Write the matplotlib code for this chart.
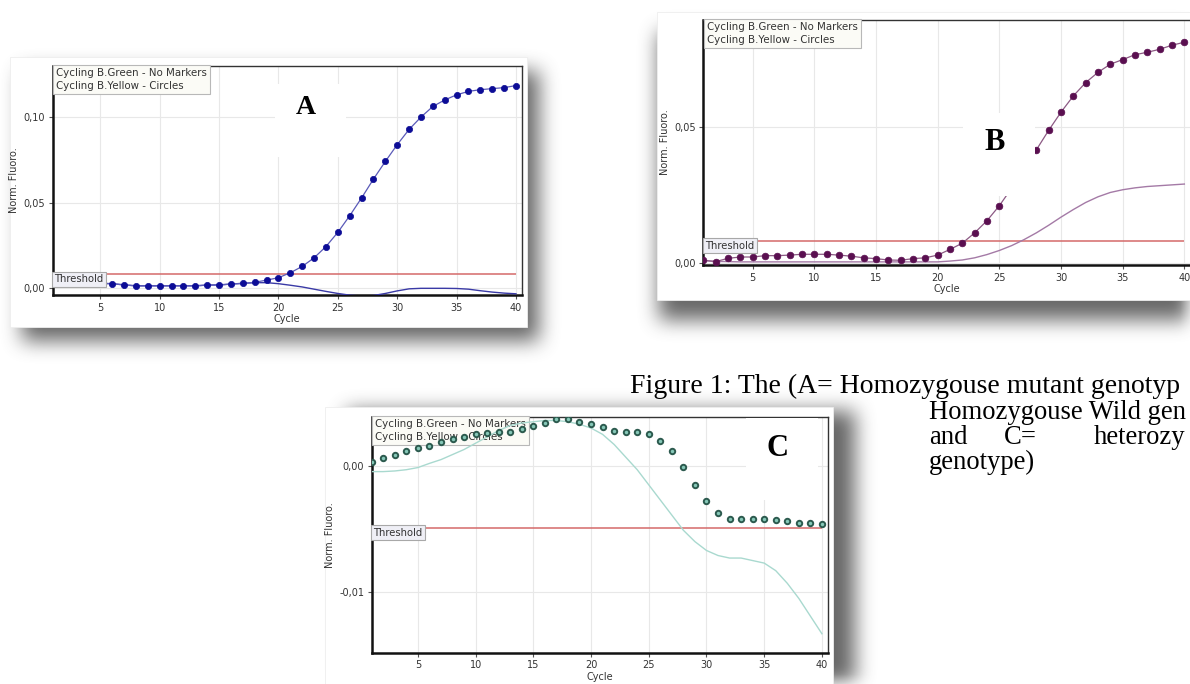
import numpy as np
import matplotlib
matplotlib.use("Agg")
from matplotlib import pyplot as plt
from matplotlib.patches import Rectangle

W, H = 1190, 684

cycles = list(range(1, 41))
x_ticks = [5, 10, 15, 20, 25, 30, 35, 40]
legend_text = "Cycling B.Green - No Markers\nCycling B.Yellow - Circles"

# panel A - homozygous mutant
a_yellow = [0.0040, 0.0037, 0.0034, 0.0031, 0.0029, 0.0027, 0.0020, 0.0014, 0.0014, 0.0014,
            0.0014, 0.0014, 0.0014, 0.0019, 0.0019, 0.0025, 0.0029, 0.0035, 0.0048, 0.0062,
            0.0091, 0.0128, 0.0178, 0.0244, 0.0327, 0.0424, 0.0528, 0.0638, 0.0741, 0.0839,
            0.0928, 0.1000, 0.1062, 0.1100, 0.1130, 0.1150, 0.1160, 0.1166, 0.1172, 0.1184]
a_green = [0.0040, 0.0037, 0.0034, 0.0031, 0.0029, 0.0027, 0.0020, 0.0015, 0.0015, 0.0015,
           0.0015, 0.0015, 0.0015, 0.0019, 0.0020, 0.0025, 0.0029, 0.0033, 0.0033, 0.0027,
           0.0018, 0.0008, -0.0005, -0.0018, -0.0030, -0.0040, -0.0045, -0.0042, -0.0030, -0.0015,
           -0.0003, 0.0000, 0.0000, 0.0000, -0.0001, -0.0005, -0.0014, -0.0022, -0.0028, -0.0032]
a_threshold = 0.0082
a_yticks = [0.0, 0.05, 0.10]
a_ylabels = ["0,00", "0,05", "0,10"]

# panel B - homozygous wild
b_yellow = [0.0009, 0.0004, 0.0016, 0.0021, 0.0021, 0.0026, 0.0026, 0.0028, 0.0031, 0.0031,
            0.0031, 0.0028, 0.0024, 0.0018, 0.0015, 0.0010, 0.0009, 0.0015, 0.0018, 0.0028,
            0.0049, 0.0072, 0.0110, 0.0155, 0.0210, 0.0275, 0.0345, 0.0416, 0.0488, 0.0555,
            0.0615, 0.0664, 0.0702, 0.0732, 0.0749, 0.0767, 0.0776, 0.0787, 0.0802, 0.0813]
b_green = [0.0008, 0.0005, 0.0004, 0.0003, 0.0003, 0.0003, 0.0003, 0.0003, 0.0003, 0.0003,
           0.0003, 0.0003, 0.0003, 0.0003, 0.0003, 0.0003, 0.0003, 0.0003, 0.0003, 0.0003,
           0.0006, 0.0010, 0.0018, 0.0030, 0.0045, 0.0063, 0.0085, 0.0110, 0.0138, 0.0168,
           0.0196, 0.0222, 0.0243, 0.0259, 0.0269, 0.0276, 0.0281, 0.0284, 0.0287, 0.0290]
b_threshold = 0.0081
b_yticks = [0.0, 0.05]
b_ylabels = ["0,00", "0,05"]

# panel C - heterozygous
c_yellow = [0.00034, 0.00066, 0.00088, 0.0012, 0.0014, 0.0016, 0.0019, 0.0021, 0.0023, 0.0025,
            0.0026, 0.00265, 0.0027, 0.0029, 0.0032, 0.0034, 0.0037, 0.0037, 0.0035, 0.0033,
            0.0031, 0.0028, 0.0027, 0.00265, 0.0025, 0.0020, 0.0012, -0.00005, -0.0015, -0.0028,
            -0.0037, -0.0042, -0.00424, -0.00424, -0.00424, -0.0043, -0.0044, -0.0045, -0.0045, -0.0046]
c_green = [-0.00045, -0.00045, -0.0004, -0.0003, -0.00013, 0.0002, 0.0005, 0.0009, 0.0013, 0.0018,
           0.0023, 0.0028, 0.0032, 0.0034, 0.0035, 0.0036, 0.0036, 0.0035, 0.0033, 0.0030,
           0.0025, 0.0017, 0.0007, -0.0003, -0.0015, -0.0027, -0.0039, -0.0051, -0.0060, -0.0067,
           -0.0071, -0.0073, -0.0073, -0.0075, -0.0077, -0.0083, -0.0093, -0.0105, -0.0119, -0.0133]
c_threshold = -0.00488
c_yticks = [-0.01, 0.0]
c_ylabels = ["-0,01", "0,00"]

# caption as visible in the picture (cut at the right edge)
caption = [(630, 393, "Figure 1: The (A= Homozygouse mutant genotyp", 20),
           (929, 419, "Homozygouse Wild gen", 19.2),
           (929, 444, "and", 19.2),
           (1004, 444, "C=", 19.2),
           (1094, 444, "heterozy", 19.2),
           (929, 469, "genotype)", 19.2)]


def fr(x0, y0, x1, y1):
    return [x0 / W, 1 - y1 / H, (x1 - x0) / W, (y1 - y0) / H]


def box1d(a, r, axis):
    a = np.moveaxis(a, axis, 0)
    p = np.concatenate([np.zeros((r + 1,) + a.shape[1:]), a, np.zeros((r,) + a.shape[1:])])
    c = np.cumsum(p, axis=0)
    out = (c[2 * r + 1:] - c[:-2 * r - 1]) / (2 * r + 1)
    return np.moveaxis(out, 0, axis)


def blur(a, r):
    for _ in range(3):
        a = box1d(box1d(a, r, 0), r, 1)
    return a


cards = {"A": (10, 57, 527, 327), "B": (657, 12, 1210, 300), "C": (325, 407, 833, 700)}
shadow_off = {"A": (12, 14), "B": (2, 20), "C": (22, 4)}

fig = plt.figure(figsize=(W / 100, H / 100), dpi=100)
bg = fig.add_axes([0, 0, 1, 1], zorder=0)
bg.set_xlim(0, W)
bg.set_ylim(H, 0)
bg.axis("off")

# drop shadows behind the screenshot cards
mask = np.zeros((H, W))
for k, (x0, y0, x1, y1) in cards.items():
    dx, dy = shadow_off[k]
    mask[max(0, y0 + dy):min(H, y1 + dy), max(0, x0 + dx):min(W, x1 + dx)] = 1
sh = blur(mask, 9)
rgba = np.zeros((H, W, 4))
rgba[..., :3] = 0.30
rgba[..., 3] = np.clip(sh * 0.85, 0, 1)
bg.imshow(rgba, extent=(0, W, H, 0), aspect="auto", interpolation="bilinear")
for k, (x0, y0, x1, y1) in cards.items():
    bg.add_patch(Rectangle((x0, y0), x1 - x0, y1 - y0, fc="white", ec="#eeeeee", lw=0.6))

for cx, cy, txt, fs in caption:
    bg.text(cx, cy, txt, fontfamily="Liberation Serif", fontsize=fs, color="black",
            va="baseline", ha="left")

tick_font = {"family": "DejaVu Sans", "size": 7}


def panel(rect, xlim, ylim, yticks, ylabels, green, yellow, thr, green_color, line_color,
          face, edge, ms, mew, draw_link):
    ax = fig.add_axes(fr(*rect), zorder=2)
    ax.set_facecolor("white")
    ax.set_xlim(*xlim)
    ax.set_ylim(*ylim)
    ax.set_xticks(x_ticks)
    ax.set_xticklabels([str(t) for t in x_ticks], fontdict=tick_font, color="#333333")
    ax.set_yticks(yticks)
    ax.set_yticklabels(ylabels, fontdict=tick_font, color="#333333")
    ax.grid(color="#e8e8e8", lw=0.8)
    ax.set_axisbelow(True)
    ax.tick_params(direction="out", length=3, width=0.8, color="#555555", pad=2.5)
    for s in ("left", "bottom"):
        ax.spines[s].set_linewidth(1.8)
        ax.spines[s].set_color("#111111")
    for s in ("top", "right"):
        ax.spines[s].set_linewidth(1.0)
        ax.spines[s].set_color("#333333")
    ax.set_xlabel("Cycle", fontdict=tick_font, color="#333333", labelpad=1)
    ax.set_ylabel("Norm. Fluoro.", fontdict=tick_font, color="#333333", labelpad=3)
    ax.hlines(thr, 1, 40, color="#d46a6a", lw=1.1, zorder=3)
    ax.text(0.007, 0.99, legend_text, transform=ax.transAxes, ha="left", va="top",
            fontsize=7.4, family="DejaVu Sans", color="#333333", linespacing=1.35, zorder=3.5,
            bbox=dict(boxstyle="square,pad=0.3", fc="#fbfbf6", ec="#b8b8b8", lw=0.8))
    ax.plot(cycles, green, color=green_color, lw=1.0, zorder=4)
    ax.plot(cycles, yellow, color=line_color, lw=0.9 if draw_link else 0, marker="o",
            ms=ms, mfc=face, mec=edge, mew=mew, zorder=5)
    ax.text(xlim[0] + 0.15, thr, "Threshold", ha="left", va="top", fontsize=7.2,
            family="DejaVu Sans", color="#333333", zorder=8,
            bbox=dict(boxstyle="square,pad=0.25", fc="#efeff6", ec="#a8a8a8", lw=0.8))
    return ax


ax_a = panel((52.8, 65.7, 521.7, 295), (1, 40.48), (-0.0039, 0.130), a_yticks, a_ylabels,
             a_green, a_yellow, a_threshold, "#3a3aa6", "#5a5ab8", "#0c0c96", "#0c0c96", 4.5, 0.5,
             True)
ax_b = panel((703.3, 20, 1190.5, 265), (1, 40.5), (-0.00085, 0.0895), b_yticks, b_ylabels,
             b_green, b_yellow, b_threshold, "#a47aa6", "#8c5a84", "#5a0f50", "#5a0f50", 4.8, 0.5,
             True)
ax_c = panel((371.7, 416.7, 827.7, 652.7), (1, 40.5), (-0.0148, 0.0039), c_yticks, c_ylabels,
             c_green, c_yellow, c_threshold, "#a9d9cf", "#9cc9bf", "#86c8b8", "#2c5a4e", 3.9, 1.4,
             False)

# panel letters on white patches
letters = [(ax_a, "A", 306, 108, (275, 84, 346, 157), 20),
           (ax_b, "B", 995, 143, (963, 113, 1035, 196), 22),
           (ax_c, "C", 778, 449, (746, 418, 818, 500), 22)]
for ax, lab, lx, ly, (x0, y0, x1, y1), fs in letters:
    ax.add_patch(Rectangle((x0, y0), x1 - x0, y1 - y0, transform=bg.transData,
                           fc="white", ec="none", zorder=6, clip_on=False))
    ax.text(lx, ly, lab, transform=bg.transData, ha="center", va="center",
            fontfamily="Liberation Serif", fontweight="bold", fontsize=fs, zorder=7)

plt.savefig("out.png", dpi=100)
